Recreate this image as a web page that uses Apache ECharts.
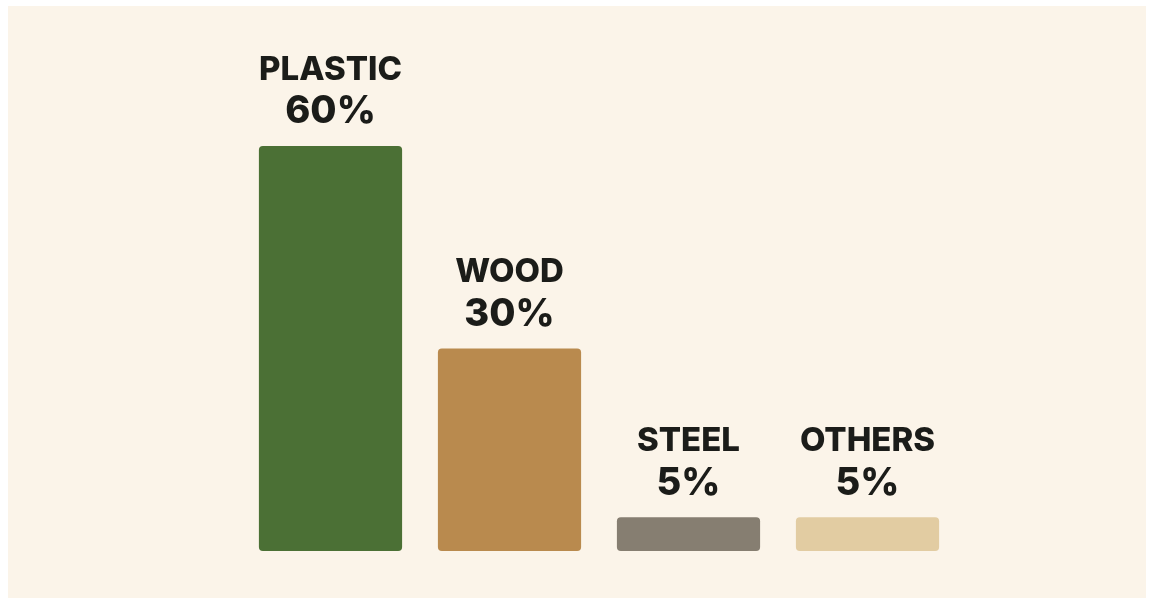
<!DOCTYPE html>
<html>
<head>
<meta charset="utf-8">
<script src="https://cdn.jsdelivr.net/npm/echarts@6/dist/echarts.min.js"></script>
<style>
  html, body { margin: 0; padding: 0; background: #ffffff; }
  #frame { position: absolute; left: 8px; top: 6px; width: 1138px; height: 592px; background: #fbf4e9; }
  #chart { position: absolute; left: -8px; top: -6px; width: 1152px; height: 604px; }
</style>
</head>
<body>
<div id="frame"><div id="chart"></div></div>
<script>
// Material shares
const categories = ['PLASTIC', 'WOOD', 'STEEL', 'OTHERS'];
const shares = [60, 30, 5, 5];
const barColors = ['#4b7035', '#b98a4e', '#867e71', '#e2cca2'];

const labelFont = 'Inter, "Liberation Sans", sans-serif';

const chart = echarts.init(document.getElementById('chart'), null, { renderer: 'canvas' });

chart.setOption({
  backgroundColor: 'transparent',
  animation: false,
  grid: { left: 241, right: 195, top: 78.5, bottom: 53 },
  xAxis: {
    type: 'category',
    data: categories,
    show: false
  },
  yAxis: {
    type: 'value',
    min: 0,
    max: 70,
    show: false
  },
  series: [{
    type: 'bar',
    barWidth: '80%',
    data: shares.map((v, i) => ({
      value: v,
      itemStyle: { color: barColors[i], borderRadius: 4 }
    })),
    label: {
      show: true,
      position: 'top',
      distance: 13,
      fontFamily: labelFont,
      fontWeight: 800,
      color: '#1b1c19',
      formatter: p => '{n|' + p.name + '}\n{v|' + p.value + '%}',
      rich: {
        n: { fontSize: 33, fontWeight: 800, lineHeight: 42, color: '#1b1c19', fontFamily: labelFont },
        v: { fontSize: 38, fontWeight: 800, lineHeight: 42, color: '#1b1c19', fontFamily: labelFont }
      }
    }
  }]
});
</script>
</body>
</html>
